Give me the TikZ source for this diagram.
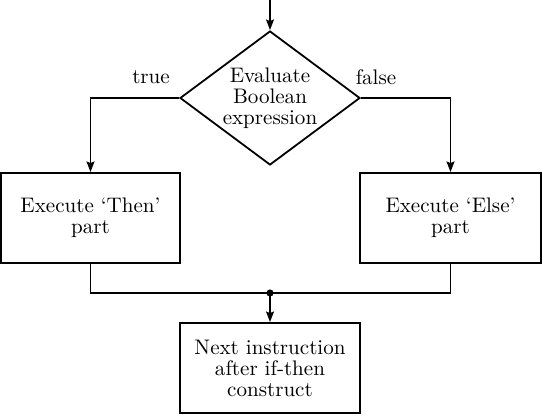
\documentclass[tikz,border=0pt]{standalone}
\usetikzlibrary{shapes.geometric,arrows.meta}
\begin{document}
\begin{tikzpicture}[x=0.475pt,y=-0.475pt,
  line width=0.85pt,
  every node/.style={font=\fontsize{10}{10}\selectfont},
  proc/.style={draw,rectangle,align=center,inner sep=0pt,minimum height=42.75pt},
  decis/.style={draw,diamond,align=center,inner sep=0pt,aspect=1.343,minimum width=85.5pt,minimum height=63.65pt},
  arr/.style={-{Stealth[length=5pt,width=3.7pt,inset=0.7pt]}},
  lbl/.style={inner sep=0pt}]
\useasboundingbox (0,0) rectangle (542,415);
\coordinate (start) at (270,0);
\node[decis] (eval) at (270,98) {Evaluate\\Boolean\\expression};
\node[proc,minimum width=85pt] (then) at (90.5,218) {Execute `Then'\\part};
\node[proc,minimum width=86pt] (else) at (450.5,218) {Execute `Else'\\part};
\node[proc,minimum width=85.5pt] (next) at (270,368) {Next instruction\\after if-then\\construct};
\coordinate (join) at (270,293);
\node[lbl] (tl) at (151,77) {true};
\node[lbl] (fl) at (376,77) {false};
\draw[arr] (start) -- (eval.north);
\draw[arr] (eval.west) -| (then.north);
\draw[arr] (eval.east) -| (else.north);
\draw (then.south) |- (join) -| (else.south);
\fill (join) circle (1.7pt);
\draw[arr] (join) -- (next.north);
\end{tikzpicture}
\end{document}
